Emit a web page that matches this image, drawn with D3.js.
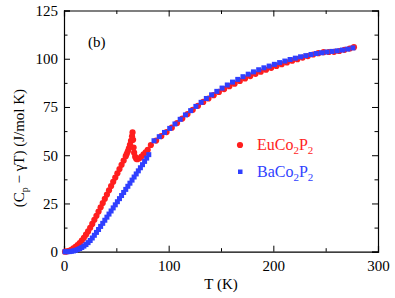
<!DOCTYPE html>
<html>
<head>
<meta charset="utf-8">
<script src="https://cdn.jsdelivr.net/npm/d3@7"></script>
<style>
  body { margin: 0; background: #fff; }
</style>
</head>
<body>
<div id="container"></div>
<script>
// EuCo2P2 (red circles): dense run through the transition, then every ~5 K
const euT = [1, 3, 5, 7, 9, 11, 13, 15, 17, 19, 21, 23, 25, 27, 29, 31, 33, 35, 37, 39,
  41, 43, 45, 47, 49, 51, 53, 55, 57, 59, 60, 61, 62, 63, 64, 65, 65.5, 66, 66.5, 67, 68, 69, 70, 72,
  74, 76, 78, 80,
  83, 88, 93, 98, 103, 108, 113, 118, 123, 128, 133, 138, 143, 148, 153, 158, 163, 168,
  173, 178, 183, 188, 193, 198, 203, 208, 213, 218, 223, 228, 233, 238, 243, 248, 253,
  258, 263, 268, 273, 277];
const euC = [0, 0.2, 0.5, 1.0, 1.7, 2.5, 3.4, 4.5, 5.8, 7.2, 8.8, 10.5, 12.4, 14.4, 16.5, 18.6, 20.8, 23.0, 25.2, 27.4,
  29.6, 31.8, 34.0, 36.2, 38.4, 40.6, 42.8, 45.0, 47.2, 49.5, 50.7, 52.0, 53.6, 55.4, 57.4, 59.8, 61.8, 58.0, 54.0, 51.3, 49.2, 48.2, 47.9, 48.4,
  49.3, 50.4, 51.5, 52.8,
  55.3, 57.6, 59.9, 62.0, 64.3, 66.7, 69.0, 71.3, 73.5, 75.6, 77.6, 79.4, 81.1, 82.8, 84.3, 85.8, 87.1, 88.5,
  89.8, 91.0, 92.2, 93.3, 94.3, 95.3, 96.3, 97.2, 98.1, 99.0, 99.8, 100.6, 101.4, 102.2, 102.9, 103.4, 103.5,
  103.6, 104.0, 104.6, 105.3, 106.0];

// BaCo2P2 (blue squares)
const baT = [1, 3, 5, 7, 9, 11, 13, 15, 17, 19, 21, 23, 25, 27, 29, 31, 33, 35, 37, 39,
  41, 43, 45, 47, 49, 51, 53, 55, 57, 59, 61, 63, 65, 67, 69, 71, 73, 75, 77, 79, 81,
  86, 91, 96, 101, 106, 111, 116, 121, 126, 131, 136, 141, 146, 151, 156, 161, 166,
  171, 176, 181, 186, 191, 196, 201, 206, 211, 216, 221, 226, 231, 236, 241, 246, 251,
  256, 261, 266, 271, 276];
const baC = [0, 0, 0.05, 0.2, 0.4, 0.7, 1.1, 1.6, 2.2, 2.9, 3.7, 4.7, 5.8, 7.1, 8.5, 10.0, 11.5, 13.1, 14.7, 16.3,
  17.9, 19.5, 21.1, 22.7, 24.3, 25.9, 27.5, 29.1, 30.7, 32.3, 33.9, 35.5, 37.1, 38.7, 40.3, 41.9, 43.5, 45.1, 46.8, 48.5, 50.3,
  57.5, 59.6, 61.8, 63.9, 66.2, 68.6, 70.9, 73.1, 75.3, 77.4, 79.4, 81.3, 83.1, 84.8, 86.4, 87.9, 89.3,
  90.7, 92.0, 93.2, 94.3, 95.3, 96.2, 97.1, 98.0, 98.8, 99.6, 100.3, 101.0, 101.6, 102.2, 102.7, 103.1, 103.5,
  103.8, 104.1, 104.5, 105.0, 105.6];

const xTicks = [0, 100, 200, 300];
const yTicks = [0, 25, 50, 75, 100, 125];
const xMinor = [50, 150, 250];
const yMinor = [12.5, 37.5, 62.5, 87.5, 112.5];

const W = 395, H = 298;
const plot = { left: 64, right: 378, top: 10.5, bottom: 251.7 };
const red = "#ff1e1e", blue = "#2f3fff";
const serif = "Liberation Serif";

const x = d3.scaleLinear().domain([0, 300]).range([plot.left, plot.right]);
const y = d3.scaleLinear().domain([0, 125]).range([plot.bottom, plot.top]);

const svg = d3.select("#container").append("svg")
  .attr("width", W).attr("height", H)
  .style("font-family", serif);

// inward ticks on all four sides
function styleAxis(g) {
  g.attr("font-family", null).attr("font-size", 15);
  g.select(".domain").attr("stroke", "#000").attr("stroke-width", 1.2);
  g.selectAll("text").attr("fill", "#000");
}
const major = 6, minorLen = 3.5;

svg.append("g").attr("transform", `translate(0,${plot.bottom})`)
  .call(d3.axisBottom(x).tickValues(xTicks).tickSize(-major).tickPadding(9).tickFormat(d3.format("d")))
  .call(styleAxis);
svg.append("g").attr("transform", `translate(0,${plot.top})`)
  .call(d3.axisTop(x).tickValues(xTicks).tickSize(-major).tickFormat(""))
  .call(styleAxis);
svg.append("g").attr("transform", `translate(${plot.left},0)`)
  .call(d3.axisLeft(y).tickValues(yTicks).tickSize(-major).tickPadding(6).tickFormat(d3.format("d")))
  .call(styleAxis);
svg.append("g").attr("transform", `translate(${plot.right},0)`)
  .call(d3.axisRight(y).tickValues(yTicks).tickSize(-major).tickFormat(""))
  .call(styleAxis);

// minor ticks
svg.append("g").attr("transform", `translate(0,${plot.bottom})`)
  .call(d3.axisBottom(x).tickValues(xMinor).tickSize(-minorLen).tickFormat(""))
  .call(g => g.select(".domain").remove());
svg.append("g").attr("transform", `translate(0,${plot.top})`)
  .call(d3.axisTop(x).tickValues(xMinor).tickSize(-minorLen).tickFormat(""))
  .call(g => g.select(".domain").remove());
svg.append("g").attr("transform", `translate(${plot.left},0)`)
  .call(d3.axisLeft(y).tickValues(yMinor).tickSize(-minorLen).tickFormat(""))
  .call(g => g.select(".domain").remove());
svg.append("g").attr("transform", `translate(${plot.right},0)`)
  .call(d3.axisRight(y).tickValues(yMinor).tickSize(-minorLen).tickFormat(""))
  .call(g => g.select(".domain").remove());

// data
const eu = euT.map((t, i) => ({ t: t, c: euC[i] }));
const ba = baT.map((t, i) => ({ t: t, c: baC[i] }));

svg.append("g").selectAll("circle").data(eu).enter().append("circle")
  .attr("cx", d => x(d.t)).attr("cy", d => y(d.c)).attr("r", 3.1).attr("fill", red);

const s = 5;
svg.append("g").selectAll("rect").data(ba).enter().append("rect")
  .attr("x", d => x(d.t) - s / 2).attr("y", d => y(d.c) - s / 2)
  .attr("width", s).attr("height", s).attr("fill", blue);

// panel label
svg.append("text").attr("x", 88).attr("y", 47).attr("font-size", 15).text("(b)");

// legend
svg.append("circle").attr("cx", 240).attr("cy", 145).attr("r", 3.1).attr("fill", red);
svg.append("rect").attr("x", 238).attr("y", 169.5).attr("width", 4.5).attr("height", 4.5).attr("fill", blue);

function formula(xPos, yPos, color, parts) {
  const t = svg.append("text").attr("x", xPos).attr("y", yPos).attr("font-size", 16).attr("fill", color);
  parts.forEach(p => {
    if (p.sub) t.append("tspan").attr("font-size", 11).attr("dy", 4).text(p.s);
    else t.append("tspan").attr("dy", p.back ? -4 : 0).text(p.s);
  });
}
formula(257, 150, red, [{ s: "EuCo" }, { s: "2", sub: true }, { s: "P", back: true }, { s: "2", sub: true }]);
formula(257, 177, blue, [{ s: "BaCo" }, { s: "2", sub: true }, { s: "P", back: true }, { s: "2", sub: true }]);

// axis titles
svg.append("text").attr("x", (plot.left + plot.right) / 2).attr("y", 289)
  .attr("text-anchor", "middle").attr("font-size", 15).text("T (K)");

const yl = svg.append("text")
  .attr("transform", `translate(24,${(plot.top + plot.bottom) / 2 + 17}) rotate(-90)`)
  .attr("text-anchor", "middle").attr("font-size", 15);
yl.append("tspan").text("(C");
yl.append("tspan").attr("font-size", 10).attr("dy", 4).text("p");
yl.append("tspan").attr("dy", -4).text(" \u2212 \u03b3T) (J/mol K)");
</script>
</body>
</html>
